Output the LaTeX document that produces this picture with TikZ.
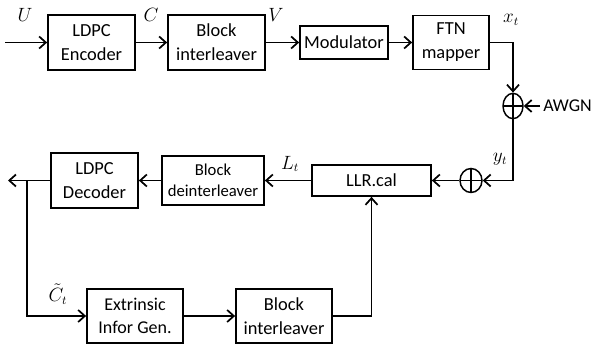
\documentclass[tikz,border=0pt]{standalone}
\usepackage{fontspec}
\setmainfont{Carlito}
\usetikzlibrary{arrows.meta,shapes.geometric}
\begin{document}
\begin{tikzpicture}[x=0.75pt,y=-0.75pt,
 blk/.style={draw,line width=1.3pt,align=center,inner sep=0pt,font=\fontsize{13.8}{18}\selectfont},
 conn/.style={line width=1.3pt,-{Straight Barb[length=5pt,width=9pt,line width=1.3pt]}},
 sumnode/.style={draw,ellipse,line width=1.1pt,minimum width=15pt,minimum height=19pt,inner sep=0pt,
   path picture={\draw[line width=1.1pt] (path picture bounding box.north)--(path picture bounding box.south)
     (path picture bounding box.west)--(path picture bounding box.east);}},
 lab/.style={font=\fontsize{13.5}{15}\selectfont,inner sep=0pt}
]
\useasboundingbox (0,0) rectangle (593,345);
% top row
\node[blk,minimum width=65.25pt,minimum height=41.25pt] (enc) at (91.5,42.5) {LDPC\\Encoder};
\node[blk,minimum width=72.75pt,minimum height=41.25pt] (bi1) at (216.5,42.5) {Block\\interleaver};
\node[blk,minimum width=66pt,minimum height=24.75pt] (mod) at (344,42.5) {Modulator};
\node[blk,minimum width=57pt,minimum height=40.5pt] (ftn) at (451,42.5) {FTN\\mapper};
\node[sumnode] (s1) at (513,106) {};
\node[font=\fontsize{13.5}{16}\selectfont,anchor=west,inner sep=0pt] (awgn) at (543,106) {AWGN};
\node[sumnode,minimum width=16.5pt,minimum height=18pt] (s2) at (471,180.5) {};
% middle row
\node[blk,minimum width=89.25pt,minimum height=23.25pt] (llr) at (371.5,180.5) {LLR.cal};
\node[blk,minimum width=76.5pt,minimum height=36.75pt,font=\fontsize{12.5}{15.5}\selectfont] (deint) at (213,180.5) {Block\\deinterleaver};
\node[blk,minimum width=65.25pt,minimum height=41.25pt] (dec) at (94.5,180.5) {LDPC\\Decoder};
% bottom row
\node[blk,minimum width=72pt,minimum height=40.5pt,font=\fontsize{13.5}{17}\selectfont] (ext) at (135,316) {Extrinsic\\Infor Gen.};
\node[blk,minimum width=72pt,minimum height=40.5pt] (bi2) at (284,316) {Block\\interleaver};
% free ends
\coordinate (in) at (5,42.5);
\coordinate (out) at (8,180.5);
\coordinate (j) at (27,180.5);
% labels
\node[lab] (lU) at (25,15) {$U$};
\node[lab] (lC) at (151,15) {$C$};
\node[lab] (lV) at (276,15) {$V$};
\node[lab] (lx) at (511,20) {$x_t$};
\node[lab] (ly) at (500,159) {$y_t$};
\node[lab] (lL) at (290,164) {$L_t$};
\node[lab] (lCt) at (58,294) {$\tilde{C}_t$};
% connectors
\draw[conn] (in) -- (enc);
\draw[conn] (enc) -- (bi1);
\draw[conn] (bi1) -- (mod);
\draw[conn] (mod) -- (ftn);
\draw[conn] (ftn.east) -| (s1.north);
\draw[conn] (awgn.west) ++(-3,0) -- (s1.east);
\draw[conn] (s1.south) |- (s2.east);
\draw[conn] (s2.west) -- (llr.east);
\draw[conn] (llr.west) -- (deint.east);
\draw[conn] (deint) -- (dec);
\draw[conn] (dec.west) -- (out);
\draw[conn] (j) |- (ext.west);
\draw[conn] (ext) -- (bi2);
\draw[conn] (bi2.east) -| (llr.south);
\end{tikzpicture}
\end{document}
